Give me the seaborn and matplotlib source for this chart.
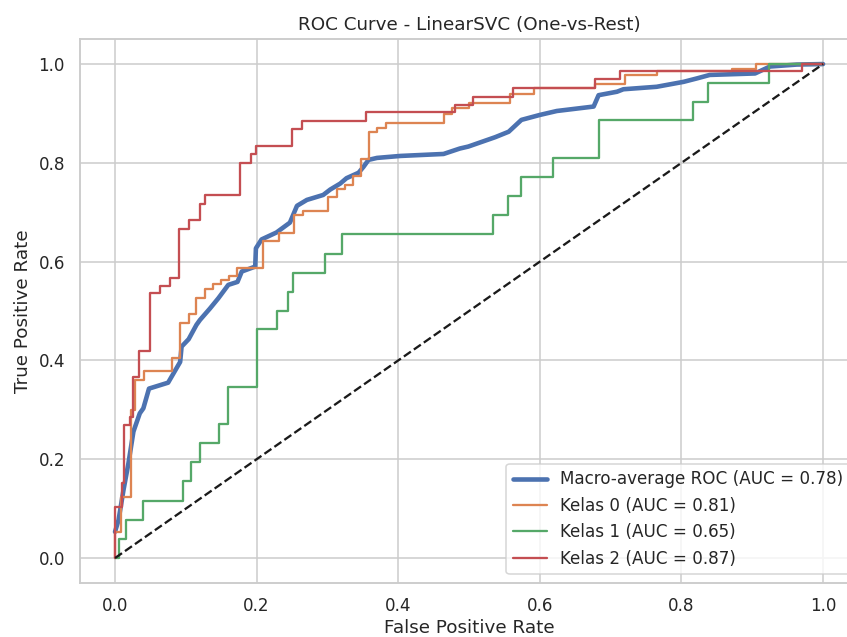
import matplotlib
matplotlib.use("Agg")
import matplotlib.pyplot as plt
import seaborn as sns

# ROC points (fpr, tpr corners of each curve)
macro_fpr = [0.0, 0.005, 0.012, 0.019, 0.026, 0.035, 0.040, 0.048, 0.075, 0.092,
             0.094, 0.104, 0.115, 0.120, 0.134, 0.146, 0.160, 0.173, 0.179, 0.198,
             0.199, 0.207, 0.228, 0.247, 0.257, 0.271, 0.294, 0.304, 0.318, 0.327,
             0.344, 0.351, 0.358, 0.370, 0.403, 0.464, 0.487, 0.499, 0.537, 0.556,
             0.574, 0.600, 0.624, 0.676, 0.683, 0.709, 0.718, 0.765, 0.803, 0.822,
             0.840, 0.904, 0.925, 0.963, 1.0]
macro_tpr = [0.053, 0.077, 0.138, 0.192, 0.256, 0.293, 0.303, 0.343, 0.355, 0.397,
             0.428, 0.443, 0.472, 0.482, 0.505, 0.526, 0.553, 0.559, 0.580, 0.590,
             0.627, 0.645, 0.659, 0.679, 0.713, 0.725, 0.735, 0.746, 0.758, 0.769,
             0.780, 0.792, 0.806, 0.810, 0.814, 0.818, 0.829, 0.833, 0.852, 0.863,
             0.887, 0.897, 0.905, 0.914, 0.937, 0.944, 0.949, 0.954, 0.964, 0.971,
             0.978, 0.981, 0.995, 0.999, 1.0]

kelas0_fpr = [0.0, 0.0, 0.009, 0.009, 0.022, 0.022, 0.028, 0.028, 0.041, 0.041,
              0.080, 0.080, 0.092, 0.092, 0.104, 0.104, 0.115, 0.115, 0.127, 0.127,
              0.139, 0.139, 0.149, 0.149, 0.161, 0.161, 0.172, 0.172, 0.209, 0.209,
              0.232, 0.232, 0.253, 0.253, 0.265, 0.265, 0.301, 0.301, 0.313, 0.313,
              0.325, 0.325, 0.336, 0.336, 0.347, 0.347, 0.359, 0.359, 0.370, 0.370,
              0.383, 0.383, 0.464, 0.464, 0.476, 0.476, 0.500, 0.500, 0.558, 0.558,
              0.592, 0.592, 0.678, 0.678, 0.720, 0.720, 0.766, 0.766, 0.871, 0.871,
              0.906, 0.906, 1.0]
kelas0_tpr = [0.0, 0.053, 0.053, 0.124, 0.124, 0.300, 0.300, 0.360, 0.360, 0.379,
              0.379, 0.404, 0.404, 0.475, 0.475, 0.494, 0.494, 0.527, 0.527, 0.544,
              0.544, 0.554, 0.554, 0.563, 0.563, 0.571, 0.571, 0.588, 0.588, 0.642,
              0.642, 0.659, 0.659, 0.694, 0.694, 0.702, 0.702, 0.731, 0.731, 0.748,
              0.748, 0.756, 0.756, 0.773, 0.773, 0.808, 0.808, 0.863, 0.863, 0.871,
              0.871, 0.880, 0.880, 0.898, 0.898, 0.912, 0.912, 0.922, 0.922, 0.939,
              0.939, 0.951, 0.951, 0.959, 0.959, 0.978, 0.978, 0.986, 0.986, 0.991,
              0.991, 1.0, 1.0]

kelas1_fpr = [0.0, 0.006, 0.006, 0.015, 0.015, 0.039, 0.039, 0.096, 0.096, 0.108,
              0.108, 0.120, 0.120, 0.147, 0.147, 0.160, 0.160, 0.200, 0.200, 0.229,
              0.229, 0.245, 0.245, 0.252, 0.252, 0.297, 0.297, 0.321, 0.321, 0.534,
              0.534, 0.555, 0.555, 0.573, 0.573, 0.619, 0.619, 0.683, 0.683, 0.817,
              0.817, 0.838, 0.838, 0.924, 0.924, 1.0]
kelas1_tpr = [0.0, 0.0, 0.038, 0.038, 0.077, 0.077, 0.115, 0.115, 0.156, 0.156,
              0.194, 0.194, 0.232, 0.232, 0.271, 0.271, 0.347, 0.347, 0.463, 0.463,
              0.501, 0.501, 0.539, 0.539, 0.578, 0.578, 0.616, 0.616, 0.655, 0.655,
              0.694, 0.694, 0.732, 0.732, 0.772, 0.772, 0.810, 0.810, 0.887, 0.887,
              0.924, 0.924, 0.962, 0.962, 1.0, 1.0]

kelas2_fpr = [0.0, 0.0, 0.0095, 0.0095, 0.013, 0.013, 0.021, 0.021, 0.026, 0.026,
              0.034, 0.034, 0.049, 0.049, 0.063, 0.063, 0.077, 0.077, 0.090, 0.090,
              0.105, 0.105, 0.120, 0.120, 0.127, 0.127, 0.177, 0.177, 0.192, 0.192,
              0.199, 0.199, 0.250, 0.250, 0.264, 0.264, 0.355, 0.355, 0.480, 0.480,
              0.506, 0.506, 0.562, 0.562, 0.678, 0.678, 0.713, 0.713, 0.970, 0.970,
              1.0]
kelas2_tpr = [0.0, 0.103, 0.103, 0.152, 0.152, 0.269, 0.269, 0.286, 0.286, 0.367,
              0.367, 0.419, 0.419, 0.536, 0.536, 0.551, 0.551, 0.567, 0.567, 0.667,
              0.667, 0.684, 0.684, 0.717, 0.717, 0.735, 0.735, 0.800, 0.800, 0.818,
              0.818, 0.834, 0.834, 0.868, 0.868, 0.885, 0.885, 0.902, 0.902, 0.917,
              0.917, 0.934, 0.934, 0.951, 0.951, 0.970, 0.970, 0.986, 0.986, 1.0,
              1.0]

chance = [0, 1]

auc_macro = 0.78
auc_kelas = [0.81, 0.65, 0.87]

sns.set_theme(style="whitegrid")
pal = sns.color_palette()

fig = plt.figure(figsize=(847 / 110, 637 / 110), dpi=110)
ax = fig.add_axes([0.094, 0.0852, 0.9195, 0.853])

sns.lineplot(x=macro_fpr, y=macro_tpr, sort=False, estimator=None, ax=ax,
             color=pal[0], lw=3, label=f"Macro-average ROC (AUC = {auc_macro:.2f})")

curves = [(kelas0_fpr, kelas0_tpr), (kelas1_fpr, kelas1_tpr), (kelas2_fpr, kelas2_tpr)]
for i, (fpr, tpr) in enumerate(curves):
    sns.lineplot(x=fpr, y=tpr, sort=False, estimator=None, ax=ax,
                 color=pal[i + 1], lw=1.5, label=f"Kelas {i} (AUC = {auc_kelas[i]:.2f})")

# chance line
sns.lineplot(x=chance, y=chance, sort=False, estimator=None, ax=ax,
             color="k", lw=1.5, linestyle="--")

ax.set_xlim(-0.05, 1.05)
ax.set_ylim(-0.05, 1.05)
ax.set_xlabel("False Positive Rate", labelpad=2.5)
ax.set_ylabel("True Positive Rate")
ax.set_title("ROC Curve - LinearSVC (One-vs-Rest)")
ax.legend(loc="lower right")

fig.savefig("out.png", dpi=110)
